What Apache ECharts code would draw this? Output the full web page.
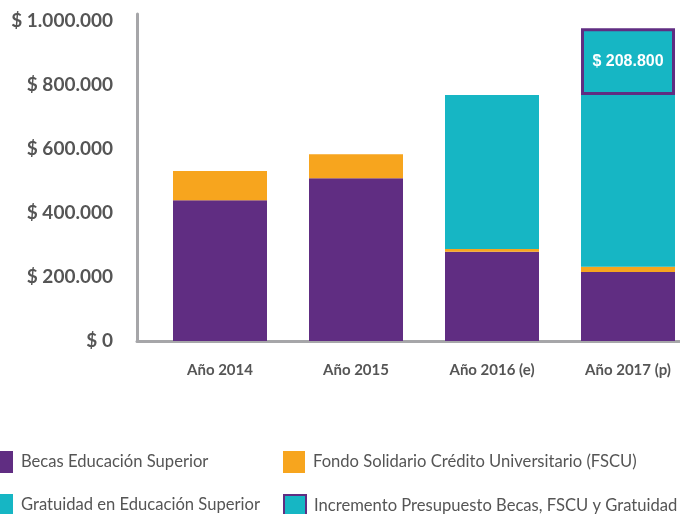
<!DOCTYPE html>
<html><head><meta charset="utf-8">
<script src="https://cdn.jsdelivr.net/npm/echarts@6/dist/echarts.min.js"></script>
<style>html,body{margin:0;padding:0;background:#fff}#c{width:680px;height:514px}</style>
</head><body><div id="c"></div>
<script>
const categories = ['Año 2014', 'Año 2015', 'Año 2016 (e)', 'Año 2017 (p)'];
const becas = [440000, 509000, 279000, 216000];
const fscu = [91000, 75000, 8500, 16000];
const gratuidad = ['-', '-', 481000, 537000];
const incremento = ['-', '-', '-', 208800];
const seriesNames = ['Becas Educación Superior', 'Fondo Solidario Crédito Universitario (FSCU)', 'Gratuidad en Educación Superior', 'Incremento Presupuesto Becas, FSCU y Gratuidad'];
const yTicks = [0, 200000, 400000, 600000, 800000, 1000000];

const PURPLE = '#602d82', ORANGE = '#f7a51e', TEAL = '#16b6c4', AXIS = '#a6a6a9', TXT = '#555555';
function fmt(v) {
  return '$ ' + String(Math.round(v)).replace(/\B(?=(\d{3})+(?!\d))/g, '.');
}
const chart = echarts.init(document.getElementById('c'));
const legendBase = { icon: 'rect', itemWidth: 22, itemHeight: 22, padding: 0, selectedMode: false,
  textStyle: { fontFamily: 'Lato', fontSize: 16.6, color: TXT, padding: [0, 0, 0, 3] } };
chart.setOption({
  animation: false,
  grid: [
    { left: 220, right: 52, top: 14, bottom: 173 },
    { left: 137, right: 0, top: 14, bottom: 173 }
  ],
  xAxis: [
    { type: 'category', gridIndex: 0, data: categories, boundaryGap: false,
      axisLine: { show: false }, axisTick: { show: false },
      axisLabel: { margin: 22, fontFamily: 'Lato', fontWeight: 'bold', fontSize: 15, color: TXT } },
    { type: 'value', gridIndex: 1, min: 0, max: 1,
      axisLine: { show: true, lineStyle: { color: AXIS, width: 3 } },
      axisTick: { show: false }, axisLabel: { show: false }, splitLine: { show: false } }
  ],
  yAxis: [
    { type: 'value', gridIndex: 0, min: 0, max: 1022000, show: false },
    { type: 'value', gridIndex: 1, min: 0, max: 1022000, interval: 200000,
      axisLine: { show: true, lineStyle: { color: AXIS, width: 3 } },
      axisTick: { show: false }, splitLine: { show: false },
      axisLabel: { margin: 24, fontFamily: 'Lato', fontWeight: 'bold', fontSize: 19, color: TXT,
        formatter: v => yTicks.indexOf(v) >= 0 ? fmt(v) : '' } }
  ],
  legend: [
    Object.assign({}, legendBase, { data: [seriesNames[0]], left: -9, top: 451 }),
    Object.assign({}, legendBase, { data: [seriesNames[1]], left: 283, top: 451 }),
    Object.assign({}, legendBase, { data: [seriesNames[2]], left: -9, top: 494 }),
    Object.assign({}, legendBase, { data: [seriesNames[3]], left: 283, top: 494 })
  ],
  series: [
    { name: seriesNames[0], type: 'bar', stack: 't', data: becas, barWidth: 94, clip: false, itemStyle: { color: PURPLE } },
    { name: seriesNames[1], type: 'bar', stack: 't', data: fscu, barWidth: 94, clip: false, itemStyle: { color: ORANGE } },
    { name: seriesNames[2], type: 'bar', stack: 't', data: gratuidad, barWidth: 94, clip: false, itemStyle: { color: TEAL } },
    { name: seriesNames[3], type: 'bar', stack: 't', data: incremento, barWidth: 94, clip: false,
      itemStyle: { color: TEAL, borderColor: PURPLE, borderWidth: 3 },
      label: { show: true, position: 'inside', formatter: p => fmt(p.value),
        fontFamily: 'Liberation Sans', fontWeight: 'bold', fontSize: 16, color: '#ffffff' } }
  ]
});
</script></body></html>
